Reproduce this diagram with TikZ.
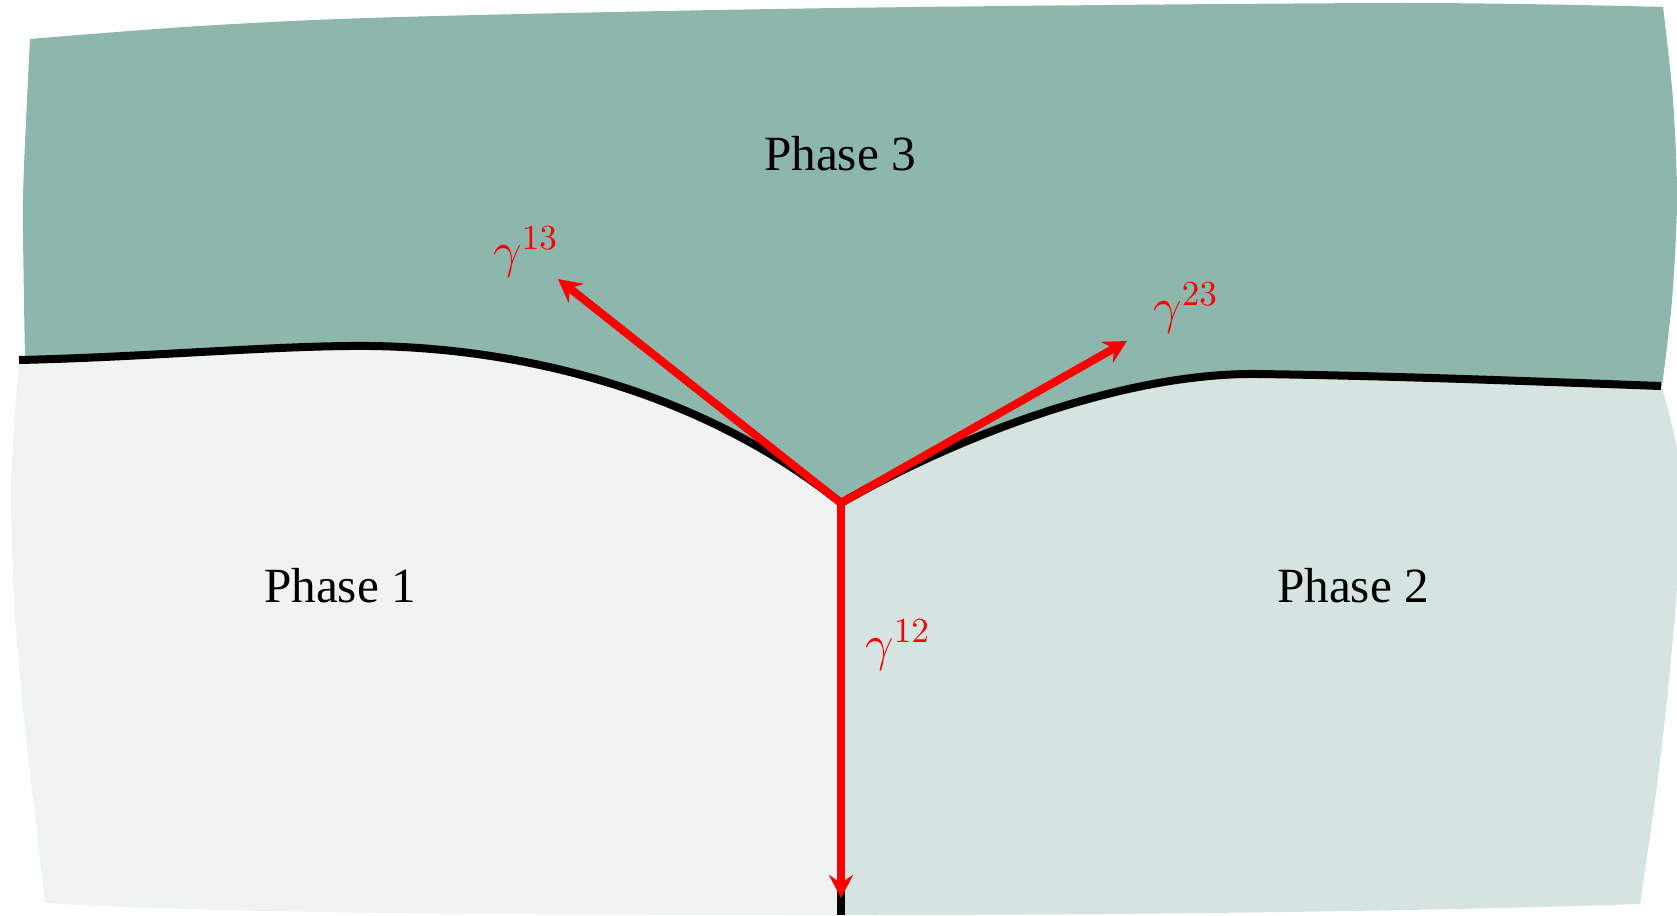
\documentclass[tikz,border=0pt]{standalone}
\usepackage{fontspec}
\setmainfont{Liberation Serif}
\usepackage{xcolor}
\usetikzlibrary{arrows.meta, positioning}
\definecolor{phasethreecol}{RGB}{141,182,173}
\definecolor{phasetwocol}{RGB}{213,228,225}
\definecolor{phaseonecol}{RGB}{239,244,242}
\tikzset{
  phasethree/.style={fill=phasethreecol},
  phasetwo/.style={fill=phasetwocol},
  phaseone/.style={fill=phaseonecol},
  boundary/.style={draw=black, line width=0.8mm},
  forcearrow/.style={draw=red, line width=0.8mm,
                  -{Stealth[length=2.3mm, width=2.4mm, inset=0.8mm]}},
  phaselabel/.style={font=\fontsize{14}{16}\selectfont, anchor=base},
  forcelabel/.style={text=red, font=\fontsize{14}{16}\selectfont, inner sep=0pt},
}

\begin{document}
\begin{tikzpicture}[x=0.01cm, y=-0.01cm]
  \useasboundingbox (0,0) rectangle (1677,915);

  \coordinate (tj) at (841,503);
  \coordinate (bot) at (841,915);
  \coordinate (t13) at (558,279);
  \coordinate (t23) at (1127,341);
  \coordinate (t12) at (841,898);

  % --- phase regions ---
  \fill[phasethree] plot[smooth] coordinates {(30,39) (200,26) (400,17) (838,8) (1400,3) (1663,7)}
    -- plot[smooth] coordinates {(1663,7) (1673,100) (1677,200) (1672,300) (1662,386)}
    -- (1661,386) .. controls (1550,382) and (1400,376) .. (1259,374)
       .. controls (1120,372) and (950,440) .. (tj)
       .. controls (700,390) and (520,348) .. (371,346)
       .. controls (280,345) and (150,357) .. (19,360)
    -- plot[smooth] coordinates {(25,357) (24,300) (23,200) (27,100) (30,39)} -- cycle;

  \fill[phaseone] (19,360) .. controls (150,357) and (280,345) .. (371,346)
       .. controls (520,348) and (700,390) .. (tj)
    -- (bot) .. controls (500,915) and (200,913) .. (45,903)
    -- plot[smooth] coordinates {(45,903) (33,800) (22,700) (14,600) (11,480) (19,362)} -- cycle;

  \fill[phasetwo] (tj) .. controls (950,440) and (1120,372) .. (1259,374)
       .. controls (1400,376) and (1550,382) .. (1661,386)
    -- plot[smooth] coordinates {(1662,388) (1677,450) (1680,530) (1676,600) (1667,700) (1655,800) (1640,904)}
    .. controls (1400,912) and (1100,915) .. (bot) -- cycle;

  % --- interfaces ---
  \draw[boundary] (19,360) .. controls (150,357) and (280,345) .. (371,346)
       .. controls (520,348) and (700,390) .. (tj);
  \draw[boundary] (tj) .. controls (950,440) and (1120,372) .. (1259,374)
       .. controls (1400,376) and (1550,382) .. (1661,386);
  \draw[boundary] (tj) -- (bot);

  % --- surface tensions ---
  \draw[forcearrow] (tj) -- (t13);
  \draw[forcearrow] (tj) -- (t23);
  \draw[forcearrow] (tj) -- (t12);

  \node[phaselabel] (p3) at (840,170) {Phase 3};
  \node[phaselabel] (p1) at (340,602) {Phase 1};
  \node[phaselabel] (p2) at (1353,602) {Phase 2};

  \node[forcelabel] (g13) at (526,252) {$\gamma^{13}$};
  \node[forcelabel] (g23) at (1186,308) {$\gamma^{23}$};
  \node[forcelabel] (g12) at (898,645) {$\gamma^{12}$};
\end{tikzpicture}
\end{document}
